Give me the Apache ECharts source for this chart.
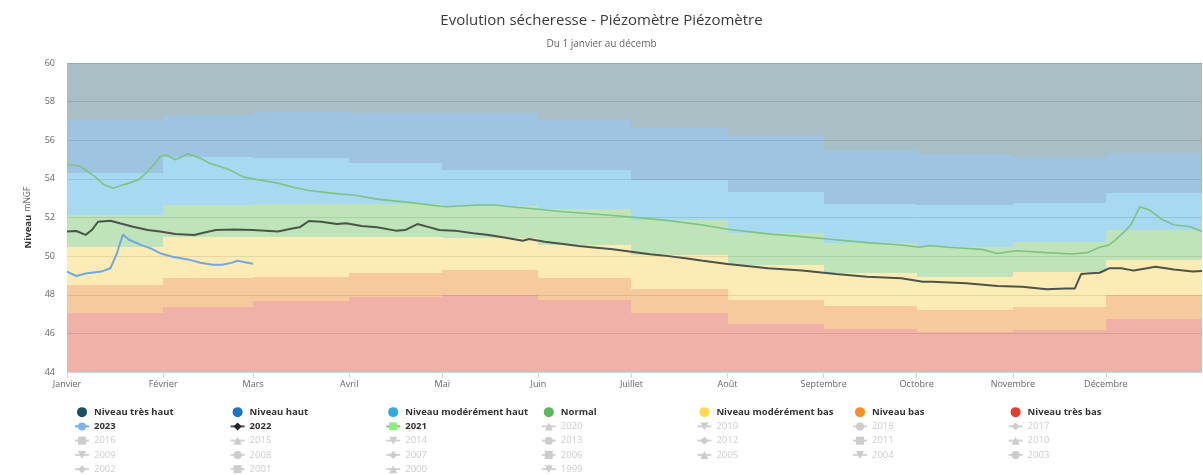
<!DOCTYPE html>
<html>
<head>
<meta charset="utf-8">
<script src="https://cdn.jsdelivr.net/npm/echarts@6/dist/echarts.min.js"></script>
<style>
  html, body { margin: 0; padding: 0; background: #fff; }
  #chart { width: 1203px; height: 475px; }
</style>
</head>
<body>
<div id="chart"></div>
<script>
// axe des x : jours depuis le 1er janvier (annee bissextile)
const moisLabels = ['Janvier', 'Février', 'Mars', 'Avril', 'Mai', 'Juin', 'Juillet', 'Août', 'Septembre', 'Octobre', 'Novembre', 'Décembre'];
const debutMois = [0, 31, 60, 91, 121, 152, 182, 213, 244, 274, 305, 335];
const finAnnee = 366;
const niveauMin = 44;
const niveauMax = 60;

// limite haute de chaque bande, mois par mois
const limiteTresBas = [47.06, 47.38, 47.67, 47.9, 47.98, 47.72, 47.03, 46.51, 46.25, 46.08, 46.2, 46.72];
const limiteBas = [48.48, 48.85, 48.93, 49.11, 49.26, 48.85, 48.28, 47.72, 47.4, 47.2, 47.38, 47.98];
const limiteModBas = [50.47, 50.97, 50.97, 50.97, 50.95, 50.57, 50.06, 49.52, 49.12, 48.92, 49.17, 49.8];
const limiteNormal = [52.13, 52.65, 52.72, 52.72, 52.62, 52.45, 51.85, 51.2, 50.7, 50.46, 50.75, 51.35];
const limiteModHaut = [54.33, 55.15, 55.1, 54.81, 54.47, 54.47, 53.93, 53.3, 52.72, 52.65, 52.74, 53.26];
const limiteHaut = [57.06, 57.32, 57.47, 57.43, 57.41, 57.06, 56.63, 56.2, 55.5, 55.3, 55.12, 55.36];

// chroniques [jour, niveau]
const serie2023 = [[0, 49.2], [3, 48.97], [6, 49.1], [11, 49.2], [14, 49.37], [16, 50.1], [18, 51.12], [20, 50.85], [24, 50.57], [27, 50.4], [30, 50.15], [34, 49.97], [39, 49.83], [43, 49.66], [47, 49.55], [50, 49.55], [53, 49.65], [55, 49.76], [57, 49.7], [60, 49.6]];
const serie2022 = [[0, 51.27], [3, 51.3], [6, 51.1], [8, 51.35], [10, 51.78], [14, 51.83], [17, 51.7], [21, 51.53], [26, 51.35], [30, 51.27], [35, 51.15], [41, 51.09], [44, 51.21], [48, 51.35], [54, 51.38], [60, 51.35], [68, 51.27], [73, 51.44], [75, 51.49], [78, 51.82], [82, 51.78], [87, 51.66], [90, 51.7], [95, 51.56], [100, 51.49], [106, 51.32], [109, 51.35], [113, 51.66], [117, 51.49], [120, 51.35], [125, 51.32], [131, 51.18], [136, 51.09], [141, 50.97], [147, 50.8], [149, 50.89], [154, 50.75], [160, 50.63], [165, 50.52], [170, 50.45], [176, 50.35], [182, 50.23], [188, 50.1], [194, 50.0], [200, 49.88], [205, 49.76], [213, 49.59], [220, 49.48], [226, 49.37], [237, 49.25], [248, 49.07], [258, 48.93], [269, 48.85], [276, 48.67], [279, 48.67], [290, 48.59], [300, 48.45], [308, 48.42], [316, 48.28], [322, 48.33], [325, 48.33], [327, 49.07], [329, 49.1], [333, 49.14], [336, 49.37], [340, 49.37], [344, 49.25], [351, 49.45], [357, 49.31], [363, 49.2], [366, 49.23]];
const serie2021 = [[0, 54.73], [4, 54.67], [9, 54.12], [12, 53.69], [15, 53.52], [18, 53.69], [20, 53.78], [23, 53.95], [26, 54.38], [28, 54.73], [30, 55.16], [32, 55.24], [35, 54.99], [39, 55.3], [43, 55.07], [46, 54.81], [52, 54.5], [57, 54.09], [62, 53.95], [68, 53.78], [73, 53.57], [78, 53.4], [84, 53.29], [88, 53.21], [92, 53.18], [100, 52.95], [111, 52.77], [122, 52.56], [133, 52.65], [138, 52.65], [143, 52.56], [152, 52.43], [160, 52.3], [170, 52.18], [181, 52.04], [194, 51.84], [205, 51.61], [213, 51.39], [226, 51.15], [237, 51.01], [246, 50.87], [258, 50.7], [269, 50.58], [275, 50.46], [278, 50.55], [284, 50.46], [295, 50.35], [300, 50.14], [306, 50.28], [316, 50.18], [324, 50.11], [329, 50.18], [333, 50.46], [336, 50.58], [338, 50.83], [341, 51.27], [343, 51.61], [346, 52.56], [349, 52.39], [353, 51.91], [357, 51.61], [362, 51.53], [366, 51.27]];

const anneesMasquees = [2020, 2019, 2018, 2017, 2016, 2015, 2014, 2013, 2012, 2011, 2010, 2009, 2008, 2007, 2006, 2005, 2004, 2003, 2002, 2001, 2000, 1999];

const plancher = debutMois.map(() => niveauMin);
const plafond = debutMois.map(() => niveauMax);
const bandes = [
  { name: 'Niveau très bas', haut: limiteTresBas, bas: plancher, color: '#e33b2e', fill: 'rgba(217,60,37,0.4)' },
  { name: 'Niveau bas', haut: limiteBas, bas: limiteTresBas, color: '#f7901e', fill: 'rgba(232,122,8,0.4)' },
  { name: 'Niveau modérément bas', haut: limiteModBas, bas: limiteBas, color: '#fddb4f', fill: 'rgba(250,205,70,0.4)' },
  { name: 'Normal', haut: limiteNormal, bas: limiteModBas, color: '#5cb85c', fill: 'rgba(95,187,80,0.4)' },
  { name: 'Niveau modérément haut', haut: limiteModHaut, bas: limiteNormal, color: '#2fa8e6', fill: 'rgba(35,160,217,0.4)' },
  { name: 'Niveau haut', haut: limiteHaut, bas: limiteModHaut, color: '#1f72c4', fill: 'rgba(15,108,182,0.4)' },
  { name: 'Niveau très haut', haut: plafond, bas: limiteHaut, color: '#1b4f63', fill: 'rgba(42,94,110,0.4)' }
];
const finMois = debutMois.slice(1).concat([finAnnee]);

const symboles = ['circle', 'diamond', 'rect', 'triangle', 'path://M0,0L10,0L5,10Z'];
const palette = ['#7cb5ec', '#434348', '#90ed7d', '#f7a35c', '#8085e9', '#f15c80', '#e4d354', '#2b908f', '#f45b5b', '#91e8e1'];
const symboleAnnee = y => symboles[(2023 - y) % 5];

const series = bandes.map(b => ({
  name: b.name,
  type: 'custom',
  silent: true,
  itemStyle: { color: b.color },
  encode: { x: [0, 1], y: [2, 3] },
  data: debutMois.map((d, i) => [d, finMois[i], b.bas[i], b.haut[i]]),
  renderItem: (params, api) => {
    const a = api.coord([api.value(0), api.value(3)]);
    const c = api.coord([api.value(1), api.value(2)]);
    const x0 = Math.round(a[0]), x1 = Math.round(c[0]);
    const y0 = Math.round(a[1]), y1 = Math.round(c[1]);
    return { type: 'rect', shape: { x: x0, y: y0, width: x1 - x0, height: y1 - y0 }, style: { fill: b.fill } };
  },
  z: 1
}));

series.push(
  { name: '2023', type: 'line', data: serie2023, symbol: symboleAnnee(2023), showSymbol: false, itemStyle: { color: '#7cb5ec' }, lineStyle: { color: '#6fa9e0', width: 2 }, z: 4 },
  { name: '2022', type: 'line', data: serie2022, symbol: symboleAnnee(2022), showSymbol: false, itemStyle: { color: '#222' }, lineStyle: { color: '#4b5449', width: 2 }, z: 3 },
  { name: '2021', type: 'line', data: serie2021, symbol: symboleAnnee(2021), showSymbol: false, itemStyle: { color: '#90ed7d' }, lineStyle: { color: '#7cc483', width: 1.6 }, z: 3 }
);
anneesMasquees.forEach((y, i) => {
  series.push({ name: String(y), type: 'line', data: [], symbol: symboleAnnee(y), itemStyle: { color: palette[(i + 3) % 10] } });
});

const selection = {};
anneesMasquees.forEach(y => { selection[String(y)] = false; });

const colonnes = [
  ['Niveau très haut', '2023', '2016', '2009', '2002'],
  ['Niveau haut', '2022', '2015', '2008', '2001'],
  ['Niveau modérément haut', '2021', '2014', '2007', '2000'],
  ['Normal', '2020', '2013', '2006', '1999'],
  ['Niveau modérément bas', '2019', '2012', '2005'],
  ['Niveau bas', '2018', '2011', '2004'],
  ['Niveau très bas', '2017', '2010', '2003']
];
const nomsBandes = bandes.map(b => b.name);

const legendes = colonnes.map((col, i) => ({
  orient: 'vertical',
  left: 74 + i * 155.6,
  top: 405,
  width: 150,
  height: 90,
  padding: 0,
  itemWidth: 14,
  itemHeight: 10,
  itemGap: 0,
  inactiveColor: '#cccccc',
  selectedMode: false,
  selected: selection,
  textStyle: { fontFamily: 'Open Sans', fontSize: 9.5, fontWeight: 'bold', color: '#333', lineHeight: 14.25 },
  data: col.map(n => {
    if (nomsBandes.indexOf(n) >= 0) return { name: n, icon: 'circle' };
    if (selection[n] === false) return { name: n, textStyle: { fontWeight: 'normal' } };
    return { name: n };
  })
}));

const chart = echarts.init(document.getElementById('chart'));
chart.setOption({
  animation: false,
  title: [
    { text: 'Evolution sécheresse - Piézomètre Piézomètre', left: 'center', top: 8, textStyle: { fontFamily: 'Open Sans', fontSize: 15, fontWeight: 'normal', color: '#3a3a3a' } },
    { text: 'Du 1 janvier au décemb', left: 'center', top: 34, textStyle: { fontFamily: 'Open Sans', fontSize: 10, fontWeight: 'normal', color: '#666' } }
  ],
  grid: { left: 67, right: 1, top: 63, bottom: 103 },
  legend: legendes,
  xAxis: {
    type: 'value',
    min: 0,
    max: finAnnee,
    splitLine: { show: false },
    axisLine: { lineStyle: { color: '#ccd6eb' } },
    axisTick: { length: 6, customValues: debutMois, lineStyle: { color: '#ccd6eb' } },
    axisLabel: {
      customValues: debutMois,
      margin: 8,
      fontFamily: 'Open Sans', fontSize: 9, color: '#666',
      formatter: v => moisLabels[debutMois.indexOf(v)]
    }
  },
  yAxis: {
    type: 'value',
    min: niveauMin,
    max: niveauMax,
    interval: 2,
    name: '{b|Niveau} {n|mNGF}',
    nameLocation: 'middle',
    nameGap: 32,
    nameTextStyle: {
      rich: {
        b: { fontFamily: 'Open Sans', fontSize: 9.5, fontWeight: 'bold', color: '#333' },
        n: { fontFamily: 'Open Sans', fontSize: 8.5, color: '#666' }
      }
    },
    axisLine: { show: false },
    axisTick: { show: false },
    axisLabel: { margin: 12, fontFamily: 'Open Sans', fontSize: 9, color: '#666' },
    splitLine: { lineStyle: { color: '#dcdcdc', width: 1 } }
  },
  series: series
});
</script>
</body>
</html>
